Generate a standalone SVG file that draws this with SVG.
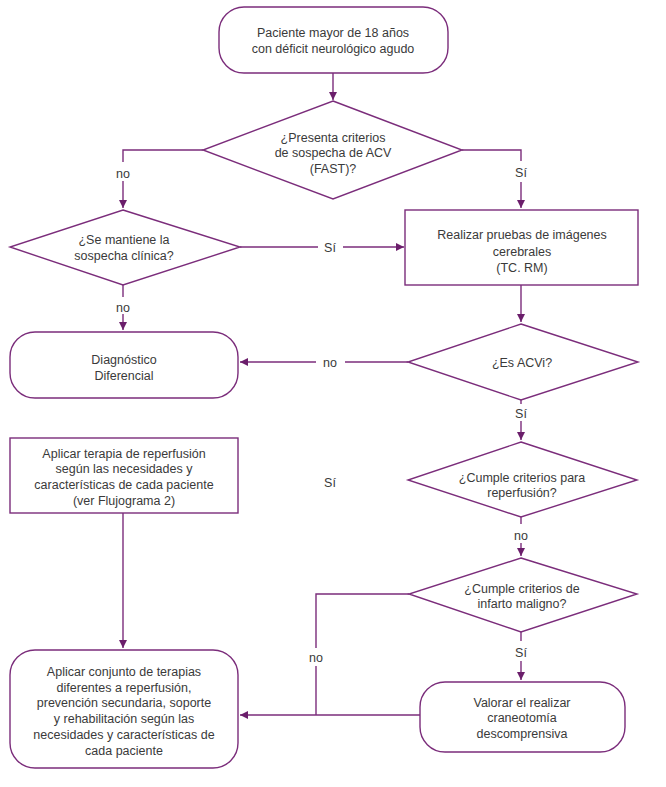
<svg xmlns="http://www.w3.org/2000/svg" width="666" height="787" viewBox="0 0 666 787">
<defs>
<marker id="ah" viewBox="0 0 10 10" refX="10" refY="5" markerWidth="8" markerHeight="8" markerUnits="userSpaceOnUse" orient="auto">
<path d="M0,0 L10,5 L0,10 z" fill="#6b1e6b"/>
</marker>
<style>
.s{fill:#fff;stroke:#7b2d7b;stroke-width:1.4}
.c{fill:none;stroke:#7b2d7b;stroke-width:1.4}
.a{fill:none;stroke:#7b2d7b;stroke-width:1.4;marker-end:url(#ah)}
text{font-family:"Liberation Sans",Arial,sans-serif;font-size:12.5px;fill:#3a3a3a;text-anchor:middle}
</style>
</defs>
<rect width="666" height="787" fill="#fff"/>
<g id="connectors">
<path class="a" d="M333,73 V100"/>
<path class="c" d="M203,150 H123 V162"/>
<path class="a" d="M123,181 V208"/>
<path class="c" d="M240,247 H318"/>
<path class="a" d="M343,247 H404"/>
<path class="c" d="M462,150 H521 V161"/>
<path class="a" d="M521,182 V208"/>
<path class="a" d="M521,285 V322"/>
<path class="c" d="M408,362 H345"/>
<path class="a" d="M316,362 H240"/>
<path class="c" d="M123,285 V297"/>
<path class="a" d="M123,314 V330"/>
<path class="c" d="M521,400 V404"/>
<path class="a" d="M521,421 V440"/>
<path class="c" d="M521,517 V524"/>
<path class="a" d="M521,543 V556"/>
<path class="c" d="M521,632 V641"/>
<path class="a" d="M521,661 V680"/>
<path class="c" d="M409,594 H316 V648"/>
<path class="c" d="M316,666 V715"/>
<path class="a" d="M420,715 H240"/>
<path class="a" d="M123,513 V648"/>
</g>
<g id="labels">
<text x="123" y="178">no</text>
<text x="521" y="177">Sí</text>
<text x="330" y="252">Sí</text>
<text x="330" y="367">no</text>
<text x="123" y="312">no</text>
<text x="521" y="418">Sí</text>
<text x="330" y="487">Sí</text>
<text x="521" y="540">no</text>
<text x="521" y="657">Sí</text>
<text x="316" y="662">no</text>
</g>
<g id="start">
<rect class="s" x="219" y="7" width="229" height="66" rx="25"/>
<text x="333" y="37">Paciente mayor de 18 años</text>
<text x="333" y="53">con déficit neurológico agudo</text>
</g>
<g id="d1">
<polygon class="s" points="333,101 462,150 333,199 203,150"/>
<text x="333" y="142">¿Presenta criterios</text>
<text x="333" y="157">de sospecha de ACV</text>
<text x="333" y="173">(FAST)?</text>
</g>
<g id="d2">
<polygon class="s" points="123,210 240,247 123,285 10,247"/>
<text x="124" y="244">¿Se mantiene la</text>
<text x="124" y="260">sospecha clínica?</text>
</g>
<g id="imagenes">
<rect class="s" x="405" y="210" width="233" height="75"/>
<text x="522" y="239">Realizar pruebas de imágenes</text>
<text x="522" y="256">cerebrales</text>
<text x="522" y="272">(TC. RM)</text>
</g>
<g id="d3">
<polygon class="s" points="521,324 638,362 521,400 408,362"/>
<text x="522" y="367">¿Es ACVi?</text>
</g>
<g id="diagnostico">
<rect class="s" x="10" y="332" width="228" height="66" rx="25"/>
<text x="124" y="364">Diagnóstico</text>
<text x="124" y="380">Diferencial</text>
</g>
<g id="d4">
<polygon class="s" points="521,442 637,480 521,517 408,480"/>
<text x="522" y="482">¿Cumple criterios para</text>
<text x="522" y="497">reperfusión?</text>
</g>
<g id="d5">
<polygon class="s" points="521,558 637,594 521,632 409,594"/>
<text x="522" y="593">¿Cumple criterios de</text>
<text x="522" y="608">infarto maligno?</text>
</g>
<g id="valorar">
<rect class="s" x="420" y="682" width="205" height="70" rx="25"/>
<text x="522" y="707">Valorar el realizar</text>
<text x="522" y="722">craneotomía</text>
<text x="522" y="738">descomprensiva</text>
</g>
<g id="reperfusion">
<rect class="s" x="10" y="438" width="228" height="75"/>
<text x="124" y="458">Aplicar terapia de reperfusión</text>
<text x="124" y="473">según las necesidades y</text>
<text x="124" y="489">características de cada paciente</text>
<text x="124" y="505">(ver Flujograma 2)</text>
</g>
<g id="conjunto">
<rect class="s" x="10" y="650" width="228" height="118" rx="25"/>
<text x="124" y="676">Aplicar conjunto de terapias</text>
<text x="124" y="692">diferentes a reperfusión,</text>
<text x="124" y="707">prevención secundaria, soporte</text>
<text x="124" y="723">y rehabilitación según las</text>
<text x="124" y="739">necesidades y características de</text>
<text x="124" y="755">cada paciente</text>
</g>
</svg>
